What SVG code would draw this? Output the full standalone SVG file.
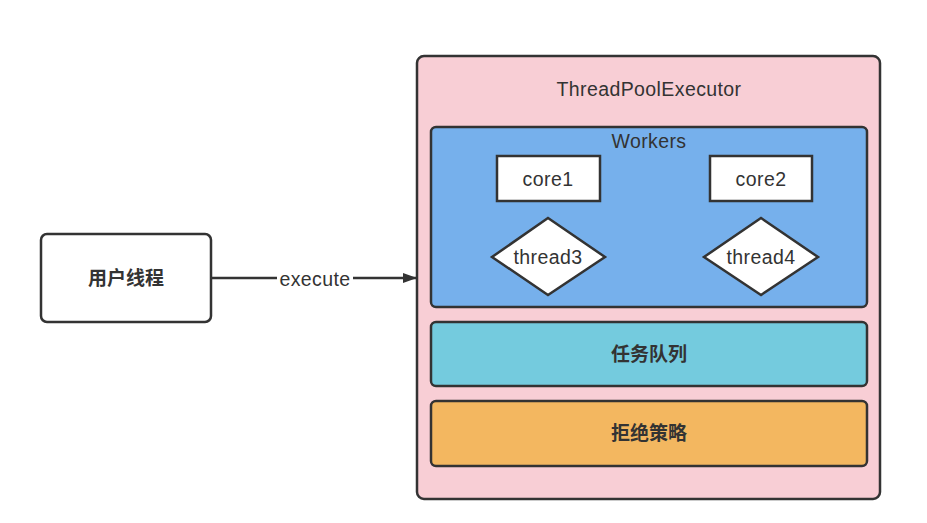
<svg xmlns="http://www.w3.org/2000/svg" width="927" height="523" viewBox="0 0 927 523">
<defs>
<marker id="arr" markerWidth="14" markerHeight="10" refX="13" refY="5" orient="auto" markerUnits="userSpaceOnUse">
<path d="M0,0 L14,5 L0,10 Z" fill="#333"/>
</marker>
<style>
text{font-family:"Helvetica Neue","Liberation Sans","Noto Sans CJK SC",sans-serif;fill:#333;text-anchor:middle;dominant-baseline:central}
.lbl{font-size:19.5px;letter-spacing:0.4px}
.cn{font-size:19px;font-weight:bold}
.box{stroke:#333;stroke-width:2.5}
</style>
</defs>
<rect width="927" height="523" fill="#fff"/>
<g id="user">
<rect class="box" x="41" y="234" width="170" height="88" rx="6" fill="#fff"/>
<text class="cn" x="126" y="278">用户线程</text>
</g>
<g id="executor">
<rect class="box" x="417" y="56" width="463" height="443" rx="7" fill="#f8ced5"/>
<text class="lbl" x="649" y="89">ThreadPoolExecutor</text>
</g>
<g id="workers">
<rect class="box" x="431" y="127" width="436" height="180" rx="5" fill="#76b0ec"/>
<text class="lbl" x="649" y="141">Workers</text>
</g>
<g id="core1">
<rect class="box" x="497" y="156" width="103" height="45" fill="#fff"/>
<text class="lbl" x="548" y="179">core1</text>
</g>
<g id="core2">
<rect class="box" x="710" y="156" width="102" height="45" fill="#fff"/>
<text class="lbl" x="761" y="179">core2</text>
</g>
<g id="thread3">
<polygon class="box" points="548,218 605,257 548,295 492,257" fill="#fff"/>
<text class="lbl" x="548" y="257">thread3</text>
</g>
<g id="thread4">
<polygon class="box" points="761,218 818,257 761,295 704,257" fill="#fff"/>
<text class="lbl" x="761" y="257">thread4</text>
</g>
<g id="queue">
<rect class="box" x="431" y="322" width="436" height="64" rx="5" fill="#74cbde"/>
<text class="cn" x="649" y="354">任务队列</text>
</g>
<g id="reject">
<rect class="box" x="431" y="401" width="436" height="65" rx="5" fill="#f3b760"/>
<text class="cn" x="649" y="433">拒绝策略</text>
</g>
<g id="connectors">
<line x1="211" y1="278" x2="416" y2="278" stroke="#333" stroke-width="2.5" marker-end="url(#arr)"/>
<rect x="277" y="268" width="76" height="22" fill="#fff"/>
<text class="lbl" x="315" y="279">execute</text>
</g>
</svg>
